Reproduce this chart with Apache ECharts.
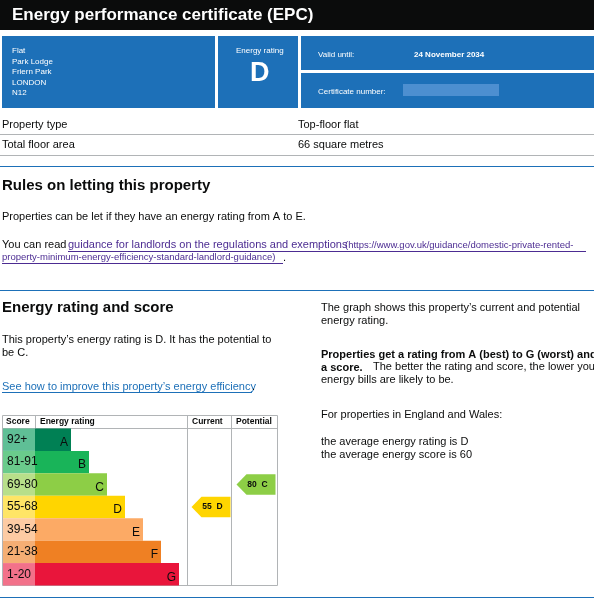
<!DOCTYPE html><html><head><meta charset="utf-8"><script src="https://cdn.jsdelivr.net/npm/echarts@6/dist/echarts.min.js"></script>
<style>html,body{margin:0;padding:0;background:#fff}#c{width:594px;height:601px}</style></head><body><div id="c"></div><script>
const bands=['A','B','C','D','E','F','G'];
const scores=['92+','81-91','69-80','55-68','39-54','21-38','1-20'];
const barLen=[2,3,4,5,6,7,8];
const bandColors=['#008054','#19b459','#8dce46','#ffd500','#fcaa65','#ef8023','#e9153b'];
const scoreColors=['#5fbf96','#6acb8c','#b8df8a','#ffe566','#fdcba3','#f5ae74','#f2718a'];
const current={score:55,band:'D'};
const potential={score:80,band:'C'};
const F='"Liberation Sans",Arial,sans-serif';
const ch=echarts.init(document.getElementById('c'));
function T(x,y,t,o){return Object.assign({type:'text',left:x,top:y,style:Object.assign({text:t,fill:'#0b0c0c',font:'11px '+F},o||{})});}
function R(x,y,w,h,fill,stroke){return {type:'rect',shape:{x,y,width:w,height:h},style:{fill:fill||'none',stroke:stroke||null,lineWidth:1}};}
const L=(x1,y1,x2,y2,c)=>({type:'line',shape:{x1,y1,x2,y2},style:{stroke:c||'#b1b4b6',lineWidth:1}});
const g=[
R(0,0,594,30,'#0b0c0c'),
T(12,7,'Energy performance certificate (EPC)',{fill:'#fff',font:'bold 17px '+F}),
R(2,36,213,72,'#1d70b8'),R(218,36,80,72,'#1d70b8'),R(301,36,293,34,'#1d70b8'),R(301,73,293,35,'#1d70b8'),
T(12,46,'Flat\nPark Lodge\nFriern Park\nLONDON\nN12',{fill:'#fff',font:'8px '+F,lineHeight:10.5}),
T(236,47,'Energy rating',{fill:'#fff',font:'8px '+F}),
T(250,60,current.band,{fill:'#fff',font:'bold 27px '+F}),
T(318,51,'Valid until:',{fill:'#fff',font:'8px '+F}),
T(414,51,'24 November 2034',{fill:'#fff',font:'bold 8px '+F}),
T(318,88,'Certificate number:',{fill:'#fff',font:'8px '+F}),
R(403,84,96,12,'#4d8fd0'),
T(2,119,'Property type',{font:'11px '+F}),T(298,119,'Top-floor flat',{font:'11px '+F}),
L(0,134.5,594,134.5),
T(2,139,'Total floor area',{font:'11px '+F}),T(298,139,'66 square metres',{font:'11px '+F}),
L(0,155.5,594,155.5),
L(0,166.5,594,166.5,'#1d70b8'),
T(2,178,'Rules on letting this property',{font:'bold 15px '+F}),
T(2,211,'Properties can be let if they have an energy rating from A to E.',{font:'11px '+F}),
T(2,239,'You can read ',{font:'11px '+F}),
T(68,239,'guidance for landlords on the regulations and exemptions',{font:'11px '+F,fill:'#4c2c92'}),
T(345,240,'(https://www.gov.uk/guidance/domestic-private-rented-',{font:'9.5px '+F,fill:'#4c2c92'}),
T(2,252,'property-minimum-energy-efficiency-standard-landlord-guidance)',{font:'9.5px '+F,fill:'#4c2c92'}),
T(283,252,'.',{font:'11px '+F}),
L(68,251.5,586,251.5,'#4c2c92'),L(2,263.5,283,263.5,'#4c2c92'),
L(0,290.5,594,290.5,'#1d70b8'),
T(2,300,'Energy rating and score',{font:'bold 15px '+F}),
T(2,334,'This property’s energy rating is D. It has the potential to\nbe C.',{font:'11px '+F,lineHeight:12.5}),
T(2,381,'See how to improve this property’s energy efficiency',{font:'11px '+F,fill:'#1d70b8'}),
T(252,381,'.',{font:'11px '+F}),L(2,392.5,252,392.5,'#1d70b8'),
T(321,302,'The graph shows this property’s current and potential\nenergy rating.',{font:'11px '+F,lineHeight:12.5}),
T(321,349,'Properties get a rating from A (best) to G (worst) and\na score.',{font:'bold 11px '+F,lineHeight:12.5}),
T(373,361.5,'The better the rating and score, the lower your',{font:'11px '+F}),
T(321,374,'energy bills are likely to be.',{font:'11px '+F}),
T(321,409,'For properties in England and Wales:',{font:'11px '+F}),
T(321,436,'the average energy rating is D\nthe average energy score is 60',{font:'11px '+F,lineHeight:12.5}),
R(2.5,415.5,275,170,null,'#b1b4b6'),
L(35.5,415.5,35.5,428.5,'#b1b4b6'),L(187.5,415.5,187.5,585.5,'#b1b4b6'),L(231.5,415.5,231.5,585.5,'#b1b4b6'),
L(2,428.5,278,428.5,'#b1b4b6'),
T(6,417,'Score',{font:'bold 8.5px '+F}),T(40,417,'Energy rating',{font:'bold 8.5px '+F}),
T(192,417,'Current',{font:'bold 8.5px '+F}),T(236,417,'Potential',{font:'bold 8.5px '+F}),
L(0,597.5,594,597.5,'#1d70b8')
];
function arrow(p,api){
  const c=api.coord([api.value(0),api.value(1)]);
  const h=api.size([0,1])[1]-2, x0=c[0]-19, x1=c[0]+20, y=c[1];
  const band=api.value(3);
  return {type:'group',children:[
    {type:'polygon',shape:{points:[[x0,y],[x0+10,y-h/2],[x1,y-h/2],[x1,y+h/2],[x0+10,y+h/2]]},style:{fill:bandColors[bands.indexOf(band)]}},
    {type:'text',style:{text:api.value(2)+'  '+band,x:c[0]+2,y:y,align:'center',verticalAlign:'middle',font:'bold 8.5px '+F,fill:'#0b0c0c'}}]};
}
ch.setOption({animation:false,graphic:g,
grid:[{left:3,top:428.5,width:32,height:157},{left:35,top:428.5,width:180,height:157},{left:188,top:428.5,width:90,height:157}],
xAxis:[{gridIndex:0,type:'value',min:0,max:1,show:false},{gridIndex:1,type:'value',min:0,max:10,show:false},{gridIndex:2,type:'category',data:['Current','Potential'],show:false}],
yAxis:[0,1,2].map(i=>({gridIndex:i,type:'category',data:bands,inverse:true,show:false})),
series:[
{type:'bar',xAxisIndex:0,yAxisIndex:0,barWidth:'100%',data:scores.map((s,i)=>({value:1,itemStyle:{color:scoreColors[i]}})),
 label:{show:true,position:'insideLeft',offset:[-1,0],formatter:p=>scores[p.dataIndex],font:'bold 8.5px '+F,color:'#0b0c0c'}},
{type:'bar',xAxisIndex:1,yAxisIndex:1,barWidth:'100%',data:barLen.map((v,i)=>({value:v,itemStyle:{color:bandColors[i]}})),
 label:{show:true,position:'insideRight',formatter:p=>bands[p.dataIndex],font:'bold 17px '+F,color:'#0b0c0c',offset:[2,3]}},
{type:'custom',xAxisIndex:2,yAxisIndex:2,renderItem:arrow,data:[['Current',current.band,current.score,current.band],['Potential',potential.band,potential.score,potential.band]]}
]});
</script></body></html>
